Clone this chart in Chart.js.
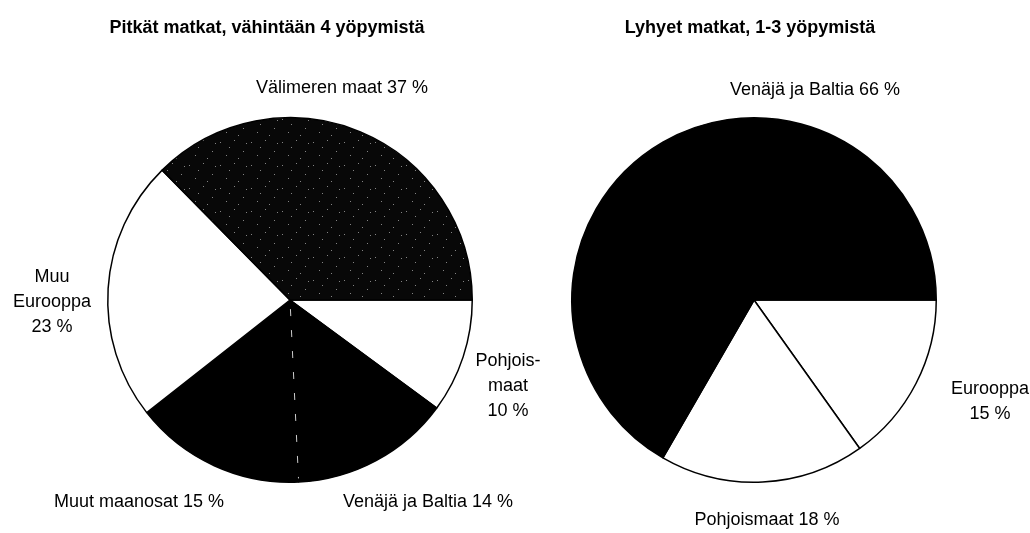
<!DOCTYPE html>
<html>
<head>
<meta charset="utf-8">
<script src="https://cdn.jsdelivr.net/npm/chart.js@4/dist/chart.umd.min.js"></script>
<style>
  body { margin: 0; background: #fff; }
  #wrap { position: relative; width: 1030px; height: 533px; }
  #wrap canvas { position: absolute; left: 0; top: 0; }
</style>
</head>
<body>
<div id="wrap">
  <canvas id="left-chart" width="1030" height="533"></canvas>
  <canvas id="right-chart" width="1030" height="533"></canvas>
</div>
<script>
// Data (clockwise from 3 o'clock)
const longTitle = "Pitkät matkat, vähintään 4 yöpymistä";
const longCategories = ["Pohjoismaat", "Venäjä ja Baltia", "Muut maanosat", "Muu Eurooppa", "Välimeren maat"];
const longValues = [10, 14, 15, 23, 37];

const shortTitle = "Lyhyet matkat, 1-3 yöpymistä";
const shortCategories = ["Eurooppa", "Pohjoismaat", "Venäjä ja Baltia"];
const shortValues = [15, 18, 66];

// Speckled dark fill for the Mediterranean slice
function speckPattern() {
  const c = document.createElement("canvas");
  c.width = 31;
  c.height = 23;
  const g = c.getContext("2d");
  g.fillStyle = "#080808";
  g.fillRect(0, 0, 31, 23);
  g.fillStyle = "rgba(255,255,255,0.5)";
  [[3, 4], [17, 2], [26, 13], [9, 17], [21, 20], [12, 9], [29, 5]].forEach(([x, y]) => g.fillRect(x, y, 1, 1));
  return g.createPattern(c, "repeat");
}

// Label layout relative to pie centre (px)
const longLabelLayout = [
  { dx: 218, dy: 86, lines: ["Pohjois-", "maat"] },
  { dx: 138, dy: 202 },
  { dx: -151, dy: 202 },
  { dx: -238, dy: 2, lines: ["Muu", "Eurooppa"] },
  { dx: 52, dy: -212 },
];
const shortLabelLayout = [
  { dx: 236, dy: 102, lines: ["Eurooppa"] },
  { dx: 13, dy: 220 },
  { dx: 61, dy: -210 },
];

const labelFont = "18px 'Liberation Sans', Arial, sans-serif";
const titleFont = "bold 18px 'Liberation Sans', Arial, sans-serif";

const pieLabels = {
  id: "pieLabels",
  afterDraw(chart, args, opts) {
    const ctx = chart.ctx;
    const meta = chart.getDatasetMeta(0);
    const cx = meta.data[0].x;
    const cy = meta.data[0].y;
    const values = chart.data.datasets[0].data;
    ctx.save();
    ctx.fillStyle = "#000";
    ctx.textAlign = "center";
    ctx.textBaseline = "middle";

    // dashed seam between the two black slices
    if (opts.seam != null) {
      const a = meta.data[opts.seam].startAngle;
      const r = meta.data[opts.seam].outerRadius;
      ctx.strokeStyle = "rgba(255,255,255,0.8)";
      ctx.lineWidth = 1;
      ctx.setLineDash([7, 14]);
      ctx.beginPath();
      ctx.moveTo(cx + Math.cos(a) * r * 0.05, cy + Math.sin(a) * r * 0.05);
      ctx.lineTo(cx + Math.cos(a) * r * 0.98, cy + Math.sin(a) * r * 0.98);
      ctx.stroke();
      ctx.setLineDash([]);
    }

    ctx.font = labelFont;
    chart.data.labels.forEach((cat, i) => {
      const l = opts.layout[i];
      const lines = l.lines ? l.lines.concat([`${values[i]} %`]) : [`${cat} ${values[i]} %`];
      const lh = 25;
      const y0 = cy + l.dy - ((lines.length - 1) * lh) / 2;
      lines.forEach((t, k) => ctx.fillText(t, cx + l.dx, y0 + k * lh));
    });

    ctx.font = titleFont;
    ctx.fillText(opts.title, opts.titleX, 28);
    ctx.restore();
  },
};

function makePie(el, categories, values, colors, padding, pluginOpts) {
  return new Chart(el, {
    type: "pie",
    data: {
      labels: categories,
      datasets: [
        {
          data: values,
          backgroundColor: colors,
          borderColor: "#000",
          borderWidth: 1.5,
        },
      ],
    },
    options: {
      responsive: false,
      animation: false,
      rotation: 90,
      layout: { padding: padding },
      plugins: {
        legend: { display: false },
        tooltip: { enabled: false },
        title: { display: false },
        pieLabels: pluginOpts,
      },
    },
    plugins: [pieLabels],
  });
}

const dark = speckPattern();

makePie(
  document.getElementById("left-chart"),
  longCategories,
  longValues,
  ["#fff", "#000", "#000", "#fff", dark],
  { left: 107, right: 557, top: 117, bottom: 50 },
  { layout: longLabelLayout, title: longTitle, titleX: 267, seam: 2 }
);

makePie(
  document.getElementById("right-chart"),
  shortCategories,
  shortValues,
  ["#fff", "#fff", "#000"],
  { left: 571, right: 93, top: 117, bottom: 50 },
  { layout: shortLabelLayout, title: shortTitle, titleX: 750, seam: null }
);
</script>
</body>
</html>
